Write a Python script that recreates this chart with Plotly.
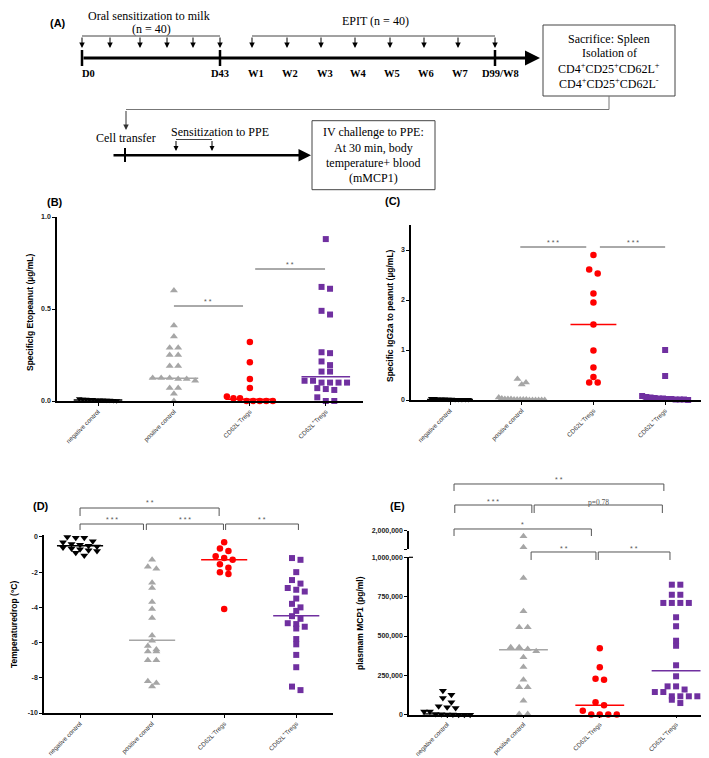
import plotly.graph_objects as go

W, H = 709, 758
def X(px): return px / W
def Y(py): return 1 - py / H

# ---------------- data ----------------
categories = ["negative control", "positive control", "CD62L<sup>-</sup>Tregs", "CD62L<sup>+</sup>Tregs"]

# (B) Specific IgE to peanut (ug/mL)
b_negative = [0.012, 0.01, 0.01, 0.008, 0.008, 0.006, 0.006, 0.005, 0.004, 0.004, 0.003, 0.002]
b_positive = [0.60, 0.41, 0.35, 0.29, 0.29, 0.25, 0.25, 0.19, 0.19, 0.125, 0.125, 0.125, 0.12, 0.12, 0.11, 0.07, 0.07, 0.04, 0.0]
b_cd62l_neg = [0.32, 0.21, 0.12, 0.07, 0.025, 0.015, 0.015, 0.0, 0.0, 0.0, 0.0, 0.0]
b_cd62l_pos = [0.88, 0.62, 0.61, 0.49, 0.47, 0.265, 0.26, 0.215, 0.195, 0.16, 0.16, 0.11, 0.11, 0.10, 0.10, 0.10, 0.10, 0.07, 0.065, 0.06, 0.02, 0.0, 0.0]
b_medians = [0.006, 0.123, 0.01, 0.132]

# (C) Specific IgG2a to peanut (ug/mL)
c_negative = [0.03, 0.03, 0.02, 0.02, 0.02, 0.015, 0.015, 0.01, 0.01, 0.01, 0.01, 0.01]
c_positive = [0.42, 0.35, 0.31, 0.05, 0.03, 0.02, 0.02, 0.02, 0.01, 0.01, 0.01, 0.01, 0.01, 0.0, 0.0, 0.0, 0.0, 0.0, 0.0]
c_cd62l_neg = [2.9, 2.61, 2.53, 2.13, 1.95, 1.51, 0.99, 0.65, 0.46, 0.35, 0.35]
c_cd62l_pos = [1.0, 0.48, 0.08, 0.06, 0.05, 0.04, 0.03, 0.03, 0.02, 0.02, 0.01, 0.01, 0.01, 0.0]
c_medians = [0.01, 0.01, 1.51, 0.03]

# (D) Temperature drop (deg C)
d_negative = [0.0, -0.05, -0.05, -0.25, -0.3, -0.4, -0.45, -0.5, -0.55, -0.6, -0.65, -0.7, -0.75, -0.8, -0.9, -1.05]
d_positive = [-1.3, -1.7, -1.8, -2.6, -2.9, -3.7, -4.1, -4.6, -5.6, -5.9, -6.2, -6.4, -6.5, -6.5, -7.0, -7.0, -8.2, -8.3, -8.5]
d_cd62l_neg = [-0.3, -0.65, -0.8, -1.1, -1.2, -1.3, -1.55, -1.75, -2.0, -2.1, -4.1]
d_cd62l_pos = [-1.2, -1.3, -2.0, -2.45, -2.65, -2.9, -3.0, -3.1, -3.5, -3.8, -4.0, -4.2, -4.5, -4.65, -4.9, -4.95, -5.1, -5.2, -5.8, -6.1, -6.7, -7.4, -8.5, -8.7]
d_medians = [-0.5, -5.87, -1.29, -4.47]

# (E) plasma mMCP1 (pg/ml)
e_negative = [152e3, 127e3, 106e3, 79e3, 53e3, 47e3, 42e3, 21e3, 21e3, 5e3, 3e3, 2e3, 1e3, 0, 0, 0]
e_positive = [868e3, 657e3, 555e3, 555e3, 428e3, 428e3, 417e3, 403e3, 365e3, 303e3, 222e3, 174e3, 174e3, 89e3, 4e3, 4e3]
e_positive_high = [1.7e6, 1.1e6]
e_cd62l_neg = [422e3, 301e3, 229e3, 222e3, 79e3, 60e3, 25e3, 2e3, 2e3, 2e3, 2e3]
e_cd62l_pos = [826e3, 826e3, 762e3, 762e3, 710e3, 710e3, 710e3, 710e3, 619e3, 562e3, 470e3, 438e3, 314e3,
               244e3, 180e3, 180e3, 160e3, 144e3, 144e3, 117e3, 117e3, 117e3, 117e3, 95e3, 74e3]
e_medians = [5e3, 413e3, 60e3, 280e3]

b_ticks = [0, 0.5, 1.0]; b_ticktext = ["0.0", "0.5", "1.0"]
c_ticks = [0, 1, 2, 3]; c_ticktext = ["0", "1", "2", "3"]
d_ticks = [-10, -8, -6, -4, -2, 0]; d_ticktext = ["-10", "-8", "-6", "-4", "-2", "0"]
e_ticks = [0, 250000, 500000, 750000, 1000000]; e_ticktext = ["0", "250,000", "500,000", "750,000", "1,000,000"]
e_hi_ticks = [1000000, 2000000]; e_hi_ticktext = ["", "2,000,000"]

colors = ["#000000", "#a6a6a6", "#ff0000", "#7030a0"]
symbols = ["triangle-down", "triangle-up", "circle", "square"]
msizes = [7, 7, 6.5, 6]

# ---------------- geometry (pixels) ----------------
P = {
    "B": dict(xa="x", ya="y", x0=49, x1=355, xr=(-0.54, 3.49), top=209, bot=393, yr=(0.0, 1.0)),
    "C": dict(xa="x2", ya="y2", x0=403, x1=693, xr=(-0.544, 3.5), top=217, bot=392, yr=(0.0, 3.5)),
    "D": dict(xa="x3", ya="y3", x0=36, x1=325, xr=(-0.5, 3.51), top=527, bot=705, yr=(-10.0, 0.11)),
    "E": dict(xa="x4", ya="y4", x0=401, x1=707, xr=(-0.5, 3.51), top=549.3, bot=706.7, yr=(0.0, 1.0e6)),
}
E_HI = dict(top=522.7, bot=541, yr=(1.0e6, 2.0e6))

def cat_px(p, idx):
    g = P[p]
    return g["x0"] + (idx - g["xr"][0]) / (g["xr"][1] - g["xr"][0]) * (g["x1"] - g["x0"])

def swarm(vals, ppu, ppc, dx=8.0, dy=5.0, wmax=46.0):
    order = sorted(range(len(vals)), key=lambda i: -vals[i])
    rows = []
    for i in order:
        if rows and (vals[rows[-1][0]] - vals[i]) * ppu < dy:
            rows[-1].append(i)
        else:
            rows.append([i])
    offs = [0.0] * len(vals)
    for r in rows:
        n = len(r)
        s = dx if n < 2 else min(dx, wmax / (n - 1))
        for k, i in enumerate(r):
            offs[i] = (k - (n - 1) / 2) * s / ppc
    return offs

fig = go.Figure()

panel_data = {
    "B": ([b_negative, b_positive, b_cd62l_neg, b_cd62l_pos], b_medians),
    "C": ([c_negative, c_positive, c_cd62l_neg, c_cd62l_pos], c_medians),
    "D": ([d_negative, d_positive, d_cd62l_neg, d_cd62l_pos], d_medians),
    "E": ([e_negative, e_positive, e_cd62l_neg, e_cd62l_pos], e_medians),
}

for p, (groups, meds) in panel_data.items():
    g = P[p]
    ppu = (g["bot"] - g["top"]) / (g["yr"][1] - g["yr"][0])
    ppc = (g["x1"] - g["x0"]) / (g["xr"][1] - g["xr"][0])
    for c, vals in enumerate(groups):
        small = (c == 0 and p in ("B", "C"))
        offs = swarm(vals, ppu, ppc, dx=(3.4 if small else 8.5), wmax=(38 if small else 46))
        fig.add_trace(go.Scatter(
            x=[c + o for o in offs], y=vals, mode="markers", xaxis=g["xa"], yaxis=g["ya"],
            marker=dict(symbol=symbols[c], color=colors[c], size=(6 if small else msizes[c]), line=dict(width=0)),
            cliponaxis=False, showlegend=False, hoverinfo="skip"))
    for c, m in enumerate(meds):
        fig.add_trace(go.Scatter(
            x=[c - 0.32, c + 0.32], y=[m, m], mode="lines", xaxis=g["xa"], yaxis=g["ya"],
            line=dict(color=colors[c], width=1.5), cliponaxis=False, showlegend=False, hoverinfo="skip"))

# upper broken segment of panel E
fig.add_trace(go.Scatter(
    x=[1] * len(e_positive_high), y=e_positive_high, mode="markers", xaxis="x4", yaxis="y5",
    marker=dict(symbol=symbols[1], color=colors[1], size=msizes[1]), cliponaxis=False,
    showlegend=False, hoverinfo="skip"))

# ---------------- axes ----------------
tickfont_y = dict(family="Liberation Sans", size=7, color="#222", weight="bold")
tickfont_x = dict(family="Liberation Sans", size=6.3, color="#333")

def xaxis(p, anchor):
    g = P[p]
    return dict(domain=[X(g["x0"]), X(g["x1"])], range=list(g["xr"]), anchor=anchor, automargin=False,
                showline=True, linecolor="black", linewidth=1.5, ticks="outside", ticklen=3,
                tickwidth=1, tickcolor="black", showgrid=False, zeroline=False,
                tickmode="array", tickvals=[0, 1, 2, 3], ticktext=categories, tickangle=-45,
                tickfont=tickfont_x, fixedrange=True)

def yaxis(p, anchor, tv, tt, top=None, bot=None, yr=None):
    g = P[p]
    top = g["top"] if top is None else top
    bot = g["bot"] if bot is None else bot
    yr = g["yr"] if yr is None else yr
    return dict(domain=[Y(bot), Y(top)], range=list(yr), anchor=anchor, automargin=False,
                showline=True, linecolor="black", linewidth=1.5, ticks="outside", ticklen=3,
                tickwidth=1, tickcolor="black", showgrid=False, zeroline=False,
                tickmode="array", tickvals=tv, ticktext=tt, tickfont=tickfont_y, fixedrange=True)

fig.update_layout(
    width=W, height=H, margin=dict(l=0, r=0, t=0, b=0, autoexpand=False),
    paper_bgcolor="white", plot_bgcolor="rgba(0,0,0,0)", showlegend=False,
    xaxis=xaxis("B", "y"), yaxis=yaxis("B", "x", b_ticks, b_ticktext),
    xaxis2=xaxis("C", "y2"), yaxis2=yaxis("C", "x2", c_ticks, c_ticktext),
    xaxis3=xaxis("D", "y3"), yaxis3=yaxis("D", "x3", d_ticks, d_ticktext),
    xaxis4=xaxis("E", "y4"), yaxis4=yaxis("E", "x4", e_ticks, e_ticktext),
    yaxis5=yaxis("E", "x4", e_hi_ticks, e_hi_ticktext, top=E_HI["top"], bot=E_HI["bot"], yr=E_HI["yr"]),
)
fig.update_layout(xaxis4=dict(ticklen=2))

shapes = []
annots = []

def line(x0, y0, x1, y1, color="black", width=1.0):
    shapes.append(dict(type="line", xref="paper", yref="paper", x0=X(x0), y0=Y(y0), x1=X(x1), y1=Y(y1),
                       line=dict(color=color, width=width)))

def text(t, x, y, size=11, family="Liberation Serif", color="black", xanchor="center", yanchor="middle", angle=0):
    annots.append(dict(text=t, x=X(x), y=Y(y), xref="paper", yref="paper", showarrow=False,
                       font=dict(family=family, size=size, color=color), xanchor=xanchor, yanchor=yanchor,
                       textangle=angle))

def arrow(xt, yt, xh, yh, width=1.0, head=2, size=1.0, color="black"):
    annots.append(dict(text="", x=X(xh), y=Y(yh), ax=(xt - xh), ay=(yt - yh), xref="paper", yref="paper",
                       axref="pixel", ayref="pixel", showarrow=True, arrowhead=head, arrowsize=size,
                       arrowwidth=width, arrowcolor=color, standoff=0, startstandoff=0))

# ---------------- panel A schematic ----------------
text("<b>(A)</b>", 50, 15, size=11, family="Liberation Sans")
text("Oral sensitization to milk", 141, 8, size=12)
text("(n = 40)", 143, 21, size=12)
text("EPIT (n = 40)", 367, 13, size=12)

oral_x = [74, 102, 132, 159, 185, 212]
epit_x = [244, 279, 313, 347, 382, 416, 450, 487]
line(oral_x[0], 28, oral_x[-1], 28, color="#444", width=1)
line(epit_x[0], 28, epit_x[-1], 28, color="#444", width=1)
for xx in oral_x + epit_x:
    arrow(xx, 28, xx, 40, width=1, head=2, size=1.1)
arrow(74, 50, 532, 50, width=3, head=2, size=1.0)
for xx in (74, 212, 487):
    line(xx, 42, xx, 58, width=2.5)
lab = [("D0", 80), ("D43", 212), ("W1", 248), ("W2", 282), ("W3", 317), ("W4", 350), ("W5", 384),
       ("W6", 418), ("W7", 452), ("D99/W8", 492)]
for t, xx in lab:
    text("<b>%s</b>" % t, xx, 65, size=10.5)

shapes.append(dict(type="rect", xref="paper", yref="paper", x0=X(535), x1=X(667), y0=Y(88), y1=Y(17),
                   line=dict(color="#444", width=1), fillcolor="white"))
for t, yy in [("Sacrifice: Spleen", 31), ("Isolation of", 45.5),
              ("CD4<sup>+</sup>CD25<sup>+</sup>CD62L<sup>+</sup>", 60), ("CD4<sup>+</sup>CD25<sup>+</sup>CD62L<sup>-</sup>", 75)]:
    text(t, 601, yy, size=12)

line(601, 88, 601, 101.5, color="#777")
line(601, 101.5, 118, 101.5, color="#777")
arrow(118, 101.5, 118, 122, width=1, head=2, size=1.1, color="#333")
text("Cell transfer", 118, 130, size=12)
text("Sensitization to PPE", 212, 124, size=12)
line(168, 131.5, 204, 131.5, color="#444")
arrow(168, 131.5, 168, 143, width=1, head=2, size=1.0)
arrow(204, 131.5, 204, 143, width=1, head=2, size=1.0)
arrow(104, 147.3, 303, 147.3, width=2.5, head=2, size=1.0)
line(117, 140, 117, 154, width=2)

shapes.append(dict(type="rect", xref="paper", yref="paper", x0=X(304), x1=X(427), y0=Y(181.7), y1=Y(112.7),
                   line=dict(color="#444", width=1), fillcolor="white"))
for t, yy in [("IV challenge to PPE:", 124.5), ("At 30 min, body", 140), ("temperature+ blood", 155), ("(mMCP1)", 170)]:
    text(t, 365, yy, size=12)

# ---------------- panel labels and axis titles ----------------
text("<b>(B)</b>", 47, 194, size=11, family="Liberation Sans")
text("<b>(C)</b>", 385, 193, size=11, family="Liberation Sans")
text("<b>(D)</b>", 33, 498, size=11, family="Liberation Sans")
text("<b>(E)</b>", 389, 498, size=11, family="Liberation Sans")

text("<b>Specificlg Etopeanut (µg/mL)</b>", 22, 305, size=8.5, family="Liberation Sans", angle=-90)
text("<b>Specific IgG2a to peanut (µg/mL)</b>", 382, 308, size=8.5, family="Liberation Sans", angle=-90)
text("<b>Temperaturedrop (°C)</b>", 6, 617, size=8.5, family="Liberation Sans", angle=-90)
text("<b>plasmam MCP1 (pg/ml)</b>", 352, 615, size=8.5, family="Liberation Sans", angle=-90)

# ---------------- significance brackets ----------------
def bracket(p, i0, i1, ytop, ylegs, label, ytext, legs=True, family="Liberation Sans", size=7):
    xa, xb = cat_px(p, i0), cat_px(p, i1)
    if legs:
        shapes.append(dict(type="path", xref="paper", yref="paper",
                           path="M %f %f L %f %f L %f %f L %f %f" % (X(xa), Y(ylegs), X(xa), Y(ytop), X(xb), Y(ytop), X(xb), Y(ylegs)),
                           line=dict(color="#555", width=1)))
    else:
        line(xa, ytop, xb, ytop, color="#555", width=1)
    text(label, (xa + xb) / 2, ytext, size=size, family=family, color="#555")

bracket("B", 1.0, 1.91, 298, 298, "* *", 293, legs=False)
bracket("B", 2.07, 2.99, 261, 261, "* *", 256, legs=False)
bracket("C", 0.98, 1.9, 239, 239, "* * *", 234, legs=False)
bracket("C", 2.09, 3.0, 239, 239, "* * *", 234, legs=False)

bracket("D", 0.0, 1.93, 500, 508, "* *", 494)
bracket("D", 0.0, 0.88, 516, 522, "* * *", 511)
bracket("D", 0.92, 1.99, 516, 522, "* * *", 511)
bracket("D", 2.02, 3.03, 516, 522, "* *", 511)

bracket("E", 0.09, 2.84, 476, 483, "* *", 471)
bracket("E", 0.1, 1.11, 497, 505, "* * *", 493)
bracket("E", 1.14, 2.82, 497, 505, "p=0.78", 494, family="Liberation Serif", size=7.5)
bracket("E", 0.09, 1.89, 521, 528, "*", 516)
bracket("E", 1.1, 1.95, 544, 552, "* *", 540)
bracket("E", 1.98, 2.92, 544, 552, "* *", 540)

# broken-axis cap on E lower segment
line(401, 549.3, 405, 549.3, width=1.2)

fig.update_layout(shapes=shapes, annotations=annots)
fig.write_html("out.html")
